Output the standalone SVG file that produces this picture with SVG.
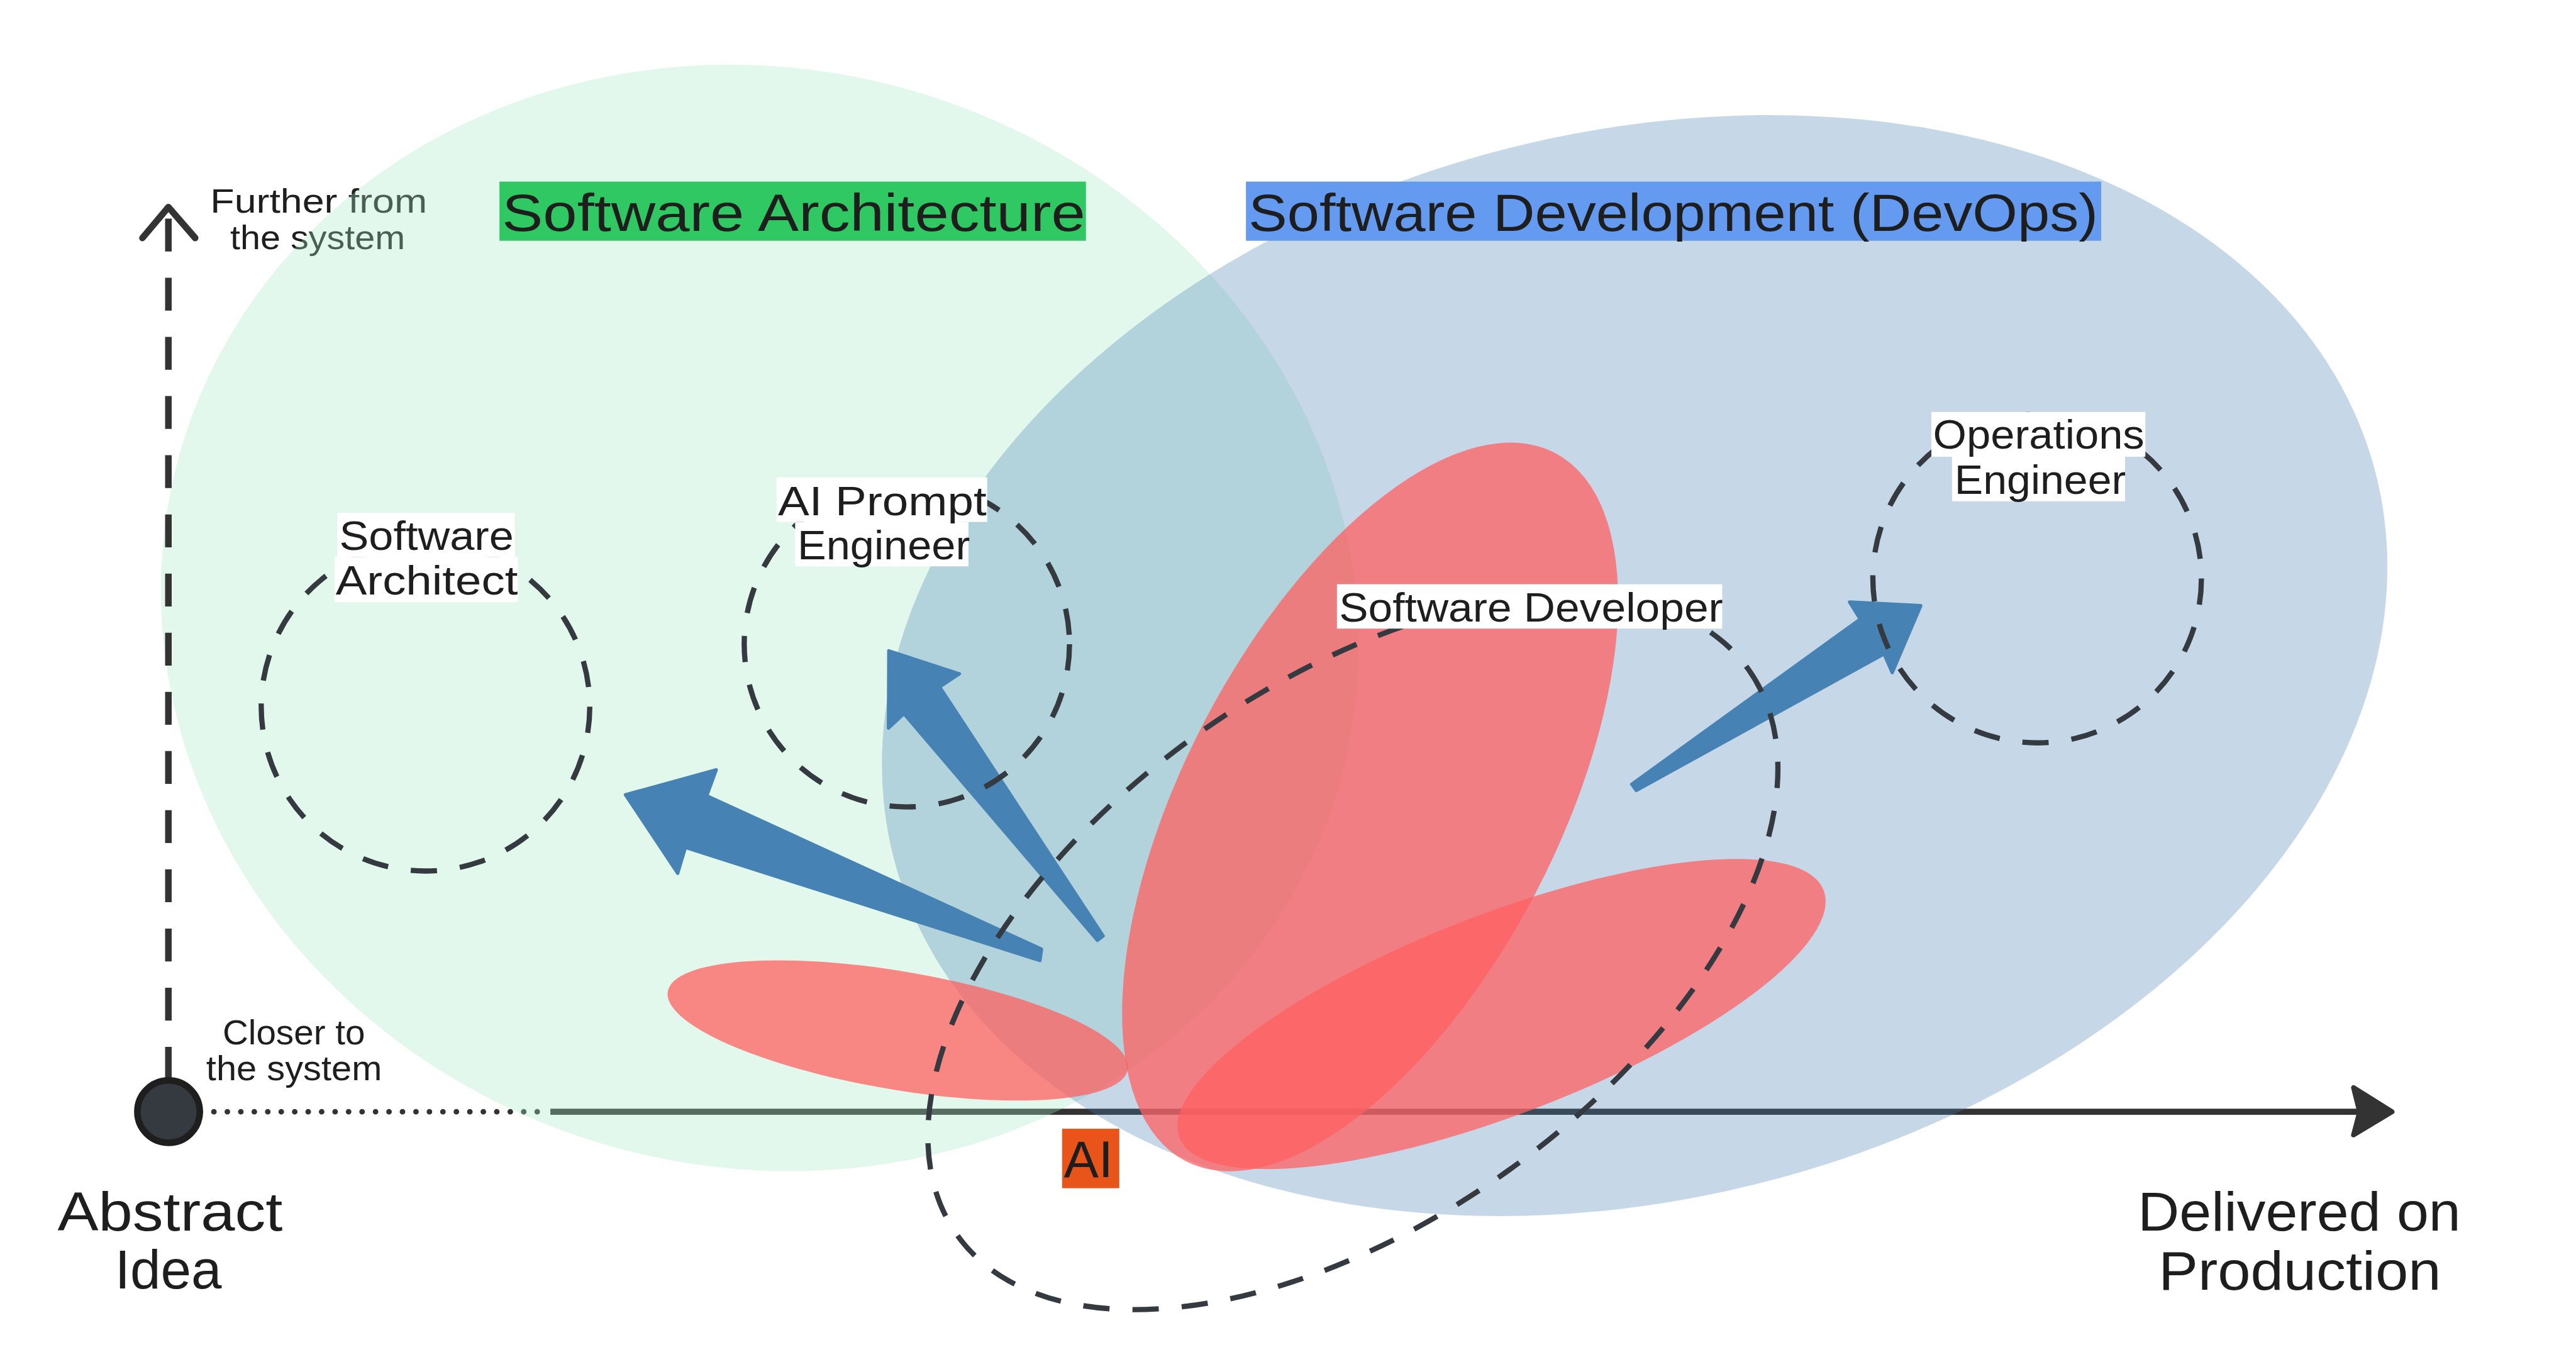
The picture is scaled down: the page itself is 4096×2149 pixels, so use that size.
<svg xmlns="http://www.w3.org/2000/svg" width="4096" height="2149" viewBox="0 0 4096 2149">
<defs>
<style>
.t { font-family: "Liberation Sans", Arial, sans-serif; fill: #1e1e1e; }
.bg { fill: #ffffff; }
.dash { fill: none; stroke: #343a40; stroke-width: 3.2; stroke-dasharray: 16 14; }
.arrow { fill: #4682b4; stroke: #4682b4; stroke-width: 2; stroke-linejoin: round; }
.red { fill: #ff6060; fill-opacity: 0.75; }
.axis { stroke: #333333; fill: none; }
</style>
</defs>
<rect x="0" y="0" width="4096" height="2149" fill="#ffffff"/>
<g transform="scale(2.61224)">
  <g id="axis-horizontal">
    <line class="axis" x1="122" y1="676.5" x2="328" y2="676.5" stroke-width="3.4" stroke-dasharray="0 8.2" stroke-linecap="round"/>
    <line class="axis" x1="335" y1="676.5" x2="1438" y2="676.5" stroke-width="3.7"/>
    <polygon points="1456,676.5 1432.6,661.8 1436.3,676.5 1432.6,690.6" fill="#333333" stroke="#333333" stroke-width="3" stroke-linejoin="round"/>
  </g>
  <g id="axis-labels">
    <text class="t" x="128" y="129.2" font-size="20.5" textLength="132" lengthAdjust="spacingAndGlyphs">Further from</text>
    <text class="t" x="140.1" y="151.5" font-size="20.5" textLength="106.5" lengthAdjust="spacingAndGlyphs">the system</text>
    <text class="t" x="135.5" y="635.6" font-size="21" textLength="86.7" lengthAdjust="spacingAndGlyphs">Closer to</text>
    <text class="t" x="125.5" y="657.4" font-size="21" textLength="107" lengthAdjust="spacingAndGlyphs">the system</text>
    <text class="t" x="35" y="748.6" font-size="33" textLength="137" lengthAdjust="spacingAndGlyphs">Abstract</text>
    <text class="t" x="70" y="784" font-size="33" textLength="65" lengthAdjust="spacingAndGlyphs">Idea</text>
    <text class="t" x="1301.3" y="748.7" font-size="33" textLength="196.5" lengthAdjust="spacingAndGlyphs">Delivered on</text>
    <text class="t" x="1313.9" y="784.6" font-size="33" textLength="172" lengthAdjust="spacingAndGlyphs">Production</text>
  </g>
  <g id="domain-architecture">
    <ellipse cx="462.5" cy="376" rx="367" ry="334" transform="rotate(16 462.5 376)" fill="#a7e9c4" fill-opacity="0.32"/>
  </g>
  <g id="domain-development">
    <ellipse cx="995" cy="405" rx="466" ry="324" transform="rotate(-14.7 995 405)" fill="#4682b4" fill-opacity="0.31"/>
  </g>
  <g id="axis-vertical">
    <line class="axis" x1="102.5" y1="657" x2="102.5" y2="128" stroke-width="4" stroke-dasharray="20 16"/>
    <polyline class="axis" points="86.7,144.8 102.5,126 118.8,144.8" stroke-width="4" stroke-linecap="round" stroke-linejoin="round"/>
    <circle cx="102.6" cy="676.4" r="19" fill="#343a40" stroke="#1e1e1e" stroke-width="4"/>
  </g>
  <g id="ai-areas">
    <ellipse class="red" cx="546.5" cy="627" rx="142" ry="36" transform="rotate(9.6 546.5 627)"/>
    <ellipse class="red" cx="834" cy="491" rx="113.5" ry="243" transform="rotate(27.6 834 491)"/>
    <ellipse class="red" cx="914" cy="617" rx="210" ry="61" transform="rotate(-21 914 617)"/>
  </g>
  <g id="connectors">
    <polygon class="arrow" points="380.7,483.6 436,468.4 430.2,484.2 634,577.5 633,584.5 417.2,515.7 412.5,531.4"/>
    <polygon class="arrow" points="541,396 584,410 572,418 671.5,569.5 668,572.2 550.2,434.2 540.8,443"/>
    <polygon class="arrow" points="993.2,477.2 1132.3,376.7 1125.8,366.3 1169.2,368.5 1151.8,409.3 1146.8,397.9 996,481"/>
  </g>
  <g id="role-software-architect">
    <circle class="dash" cx="259" cy="430" r="100"/>
    <rect class="bg" x="205.3" y="312" width="108.1" height="27"/>
    <rect class="bg" x="203.6" y="338.9" width="111.6" height="27.5"/>
    <text class="t" x="206.5" y="334.7" font-size="24.5" textLength="106.2" lengthAdjust="spacingAndGlyphs">Software</text>
    <text class="t" x="204.3" y="361.6" font-size="24.5" textLength="110.9" lengthAdjust="spacingAndGlyphs">Architect</text>
  </g>
  <g id="role-ai-prompt-engineer">
    <circle class="dash" cx="552" cy="392" r="99"/>
    <rect class="bg" x="472.7" y="290.4" width="128.2" height="27.2"/>
    <rect class="bg" x="484" y="317.6" width="105.5" height="27"/>
    <text class="t" x="473.5" y="313.4" font-size="24.5" textLength="127" lengthAdjust="spacingAndGlyphs">AI Prompt</text>
    <text class="t" x="485.4" y="340.3" font-size="24.5" textLength="105" lengthAdjust="spacingAndGlyphs">Engineer</text>
  </g>
  <g id="role-software-developer">
    <ellipse class="dash" cx="823.5" cy="579.5" rx="296" ry="163" transform="rotate(-35.6 823.5 579.5)"/>
    <rect class="bg" x="813.8" y="355.5" width="234.5" height="27"/>
    <text class="t" x="815.1" y="378.2" font-size="24.5" textLength="233.7" lengthAdjust="spacingAndGlyphs">Software Developer</text>
  </g>
  <g id="role-operations-engineer">
    <circle class="dash" cx="1240" cy="352" r="100"/>
    <rect class="bg" x="1175.6" y="250.7" width="130.3" height="27.2"/>
    <rect class="bg" x="1188.2" y="277.9" width="105.3" height="27.1"/>
    <text class="t" x="1176.6" y="273.1" font-size="24.5" textLength="128.7" lengthAdjust="spacingAndGlyphs">Operations</text>
    <text class="t" x="1189.7" y="300.6" font-size="24.5" textLength="104.3" lengthAdjust="spacingAndGlyphs">Engineer</text>
  </g>
  <g id="title-architecture">
    <rect x="304" y="110.5" width="357" height="36" fill="#30c862"/>
    <text class="t" x="305.6" y="140.6" font-size="32" textLength="355" lengthAdjust="spacingAndGlyphs">Software Architecture</text>
  </g>
  <g id="title-development">
    <rect x="758.4" y="110.5" width="520.6" height="36" fill="#649bf0"/>
    <text class="t" x="760" y="140.6" font-size="32" textLength="517" lengthAdjust="spacingAndGlyphs">Software Development (DevOps)</text>
  </g>
  <g id="ai-label">
    <rect x="646.5" y="686.8" width="34.8" height="36.2" fill="#e8541a"/>
    <text class="t" x="647.5" y="716.2" font-size="31" textLength="30" lengthAdjust="spacingAndGlyphs">AI</text>
  </g>
</g>
</svg>
